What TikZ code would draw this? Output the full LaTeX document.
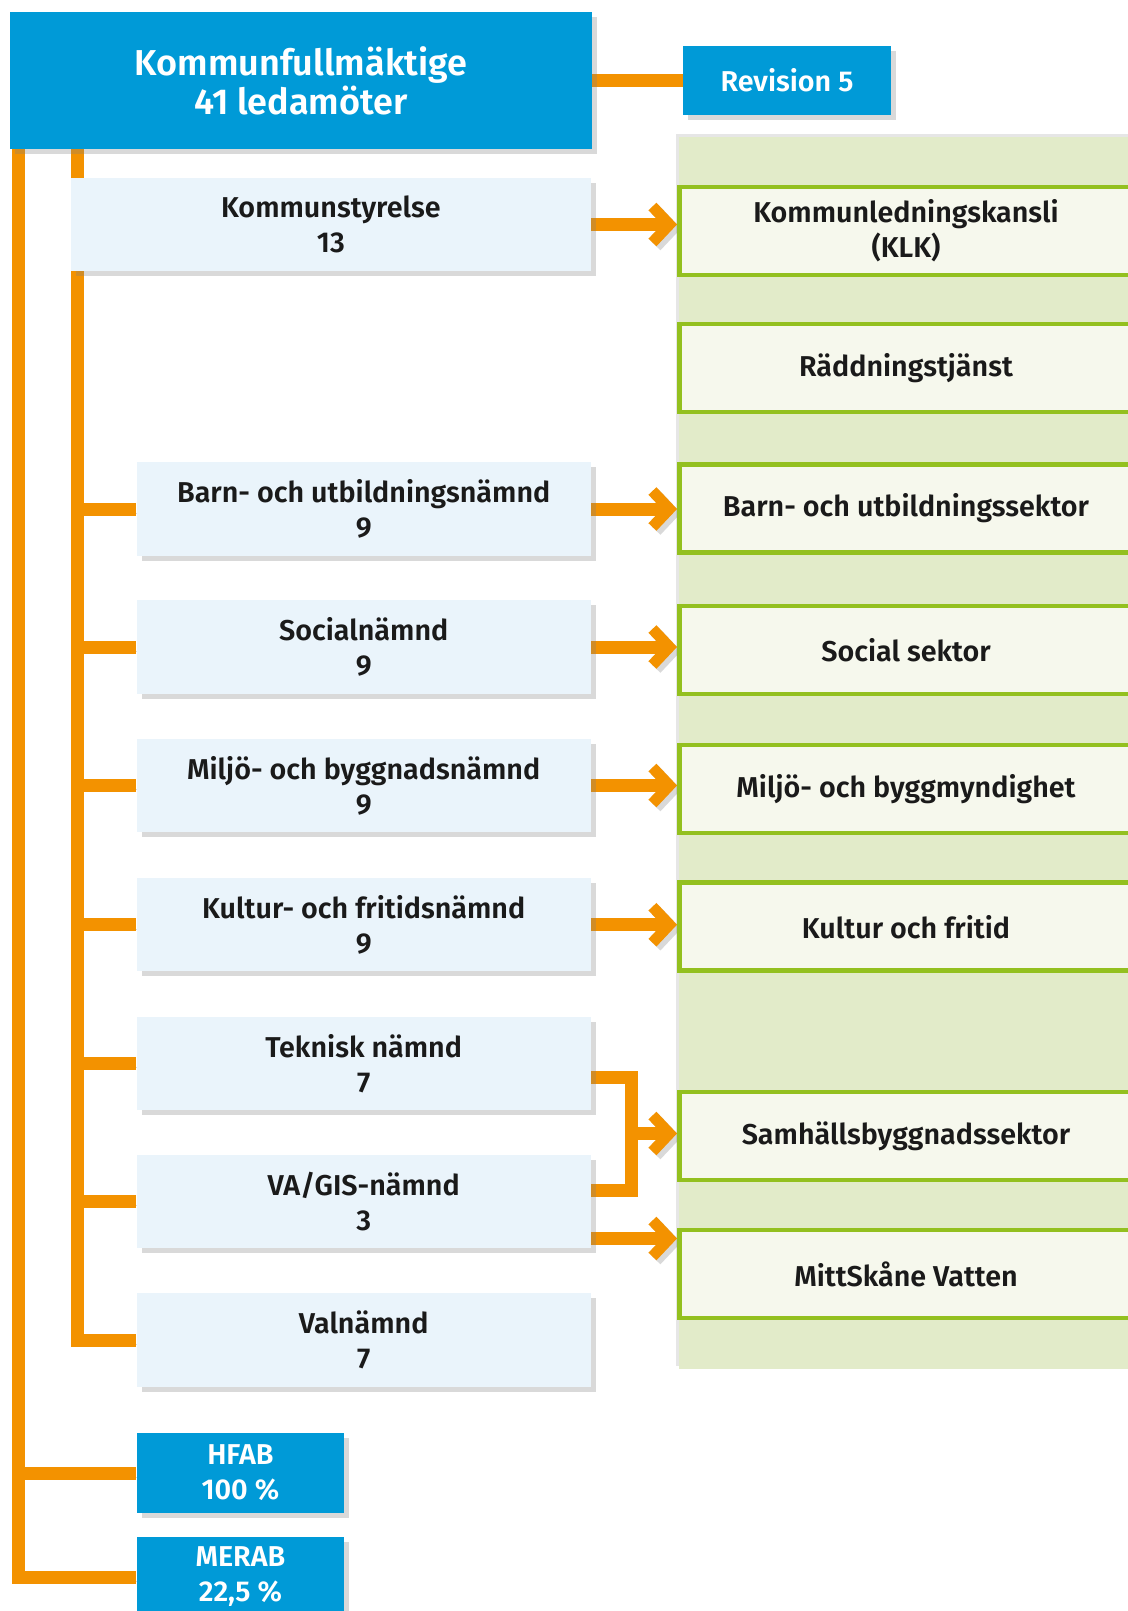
\documentclass[tikz,border=0pt]{standalone}
\usepackage{fontspec}
\setmainfont{Fira Sans}[BoldFont={Fira Sans SemiBold}]
\usetikzlibrary{arrows.meta,shadows,backgrounds}
\definecolor{kommunblue}{RGB}{0,154,215}
\definecolor{stamorange}{RGB}{243,146,0}
\definecolor{sektorgreen}{RGB}{147,192,31}
\definecolor{sektorfill}{RGB}{246,248,237}
\definecolor{panelgreen}{RGB}{226,235,201}
\definecolor{namndfill}{RGB}{234,244,251}
\definecolor{textblack}{RGB}{26,26,26}
\tikzset{
    % shadow shared by the boxes
    boxshadow/.style={drop shadow={shadow xshift=5pt,shadow yshift=-5pt,opacity=.3}},
    % blue boxes (fullmaktige, revision, bolag)
    bluebox/.style={fill=kommunblue, text=white, inner sep=0pt, align=center,
        font=\bfseries\fontsize{28.7}{35}\selectfont, boxshadow},
    kfbox/.style={bluebox, minimum width=581.5pt, minimum height=136.7pt,
        font=\bfseries\fontsize{36}{39}\selectfont},
    bolagbox/.style={bluebox, minimum width=207.6pt, minimum height=80pt},
    % political boards (light blue)
    namnd/.style={fill=namndfill, text=textblack, inner sep=0pt, align=center,
        minimum width=454.2pt, minimum height=93.5pt,
        font=\bfseries\fontsize{28.7}{35}\selectfont, boxshadow},
    % administration (green frame)
    sektor/.style={draw=sektorgreen, line width=4.5pt, fill=sektorfill, text=textblack,
        inner sep=0pt, align=center, minimum width=453.5pt, minimum height=88pt,
        font=\bfseries\fontsize{28.7}{35}\selectfont},
}
\tikzset{
    % orange connectors
    stam/.style={draw=stamorange, line width=13pt, line join=miter,
        preaction={draw=black, draw opacity=.15, transform canvas={xshift=4pt,yshift=-4pt}}},
    pil/.style={stam, -{Straight Barb[length=17pt,width=36pt,line width=11pt]}},
}
\begin{document}
\begin{tikzpicture}[x=1pt,y=-1pt]
  \useasboundingbox (0,0) rectangle (1127,1611);

  % top: fullmaktige and revision
  \node[kfbox] (kf) at (301,80.7) {Kommunfullmäktige\\41 ledamöter};
  \node[bluebox, minimum width=207.6pt, minimum height=68.9pt] (rev) at (787,80.7) {Revision 5};

  % left column: boards
  \node[namnd, minimum width=519.9pt] (ks) at (330.85,224.5) {Kommunstyrelse\\13};
  \node[namnd] (barn) at (363.7,509) {Barn- och utbildningsnämnd\\9};
  \node[namnd] (social) at (363.7,647) {Socialnämnd\\9};
  \node[namnd] (miljo) at (363.7,785.5) {Miljö- och byggnadsnämnd\\9};
  \node[namnd] (kultur) at (363.7,924.7) {Kultur- och fritidsnämnd\\9};
  \node[namnd] (teknisk) at (363.7,1063.4) {Teknisk nämnd\\7};
  \node[namnd] (va) at (363.7,1201.5) {VA/GIS-nämnd\\3};
  \node[namnd] (val) at (363.7,1340) {Valnämnd\\7};

  % companies
  \node[bolagbox] (hfab) at (240.4,1473) {HFAB\\100 \%};
  \node[bolagbox] (merab) at (240.4,1577) {MERAB\\22,5 \%};

  % right column: administration
  \node[sektor] (klk) at (906,231) {Kommunledningskansli\\(KLK)};
  \node[sektor] (radd) at (906,367.8) {Räddningstjänst};
  \node[sektor] (barnsektor) at (906,508.6) {Barn- och utbildningssektor};
  \node[sektor] (socialsektor) at (906,650) {Social sektor};
  \node[sektor] (miljosektor) at (906,789) {Miljö- och byggmyndighet};
  \node[sektor] (kultursektor) at (906,926.7) {Kultur och fritid};
  \node[sektor] (samh) at (906,1135.8) {Samhällsbyggnadssektor};
  \node[sektor] (mittskane) at (906,1274) {MittSkåne Vatten};

  \begin{scope}[on background layer]
    % green panel behind the administration
    \fill[panelgreen, drop shadow={shadow xshift=-3pt,shadow yshift=3pt,opacity=.2}]
      (679,136.6) rectangle (1140,1368.5);

    % trunks
    \coordinate (inre) at (77.5,149);
    \coordinate (yttre) at (18.5,149);
    \draw[stam] (kf) -- (rev);
    \draw[stam] (inre) |- (val.west);
    \foreach \n in {barn,social,miljo,kultur,teknisk,va}
      \draw[stam] (inre |- \n.west) -- (\n.west);
    \draw[stam] (yttre) |- (merab.west);
    \draw[stam] (yttre |- hfab.west) -- (hfab.west);

    % boards to administration
    \draw[pil] (ks.east) -- (ks.east -| klk.west);
    \draw[pil] (barn.east) -- (barn.east -| barnsektor.west);
    \draw[pil] (social.east) -- (social.east -| socialsektor.west);
    \draw[pil] (miljo.east) -- (miljo.east -| miljosektor.west);
    \draw[pil] (kultur.east) -- (kultur.east -| kultursektor.west);

    % teknisk + va/gis joined
    \draw[stam] ([yshift=-14pt]teknisk.east) -- ++(40.7,0) |- ([yshift=11.5pt]va.east);
    \coordinate (knut) at (631.5,1133.5);
    \draw[pil] (knut) -- (knut -| samh.west);
    \coordinate (vaut) at ([yshift=-37pt]va.east);
    \draw[pil] (vaut) -- (vaut -| mittskane.west);
  \end{scope}
\end{tikzpicture}
\end{document}
